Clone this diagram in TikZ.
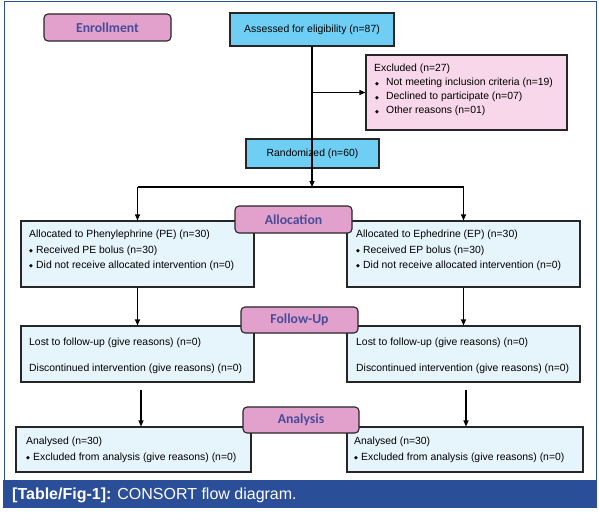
\documentclass[tikz,border=0pt]{standalone}
\usepackage{fontspec}
\setmainfont{Liberation Sans}
\newfontfamily\carlito{Carlito}
\newfontfamily\dejavu{DejaVu Sans}
\usetikzlibrary{arrows.meta,shadows}
\definecolor{pinkL}{RGB}{226,160,204}
\definecolor{labtext}{RGB}{72,76,152}
\definecolor{cyanB}{RGB}{110,206,244}
\definecolor{pinkX}{RGB}{247,215,233}
\definecolor{paleB}{RGB}{230,244,252}
\definecolor{framec}{RGB}{44,80,146}
\definecolor{barc}{RGB}{42,78,152}
\newcommand{\bulx}[1]{\makebox[#1][l]{\dejavu\fontsize{5}{5}\selectfont\raisebox{0.8pt}{◆}}}
\begin{document}
\begin{tikzpicture}[x=1pt,y=-1pt,
  box/.style={draw=black!85, line width=1.1pt, inner sep=0pt,
    drop shadow={shadow xshift=0.8pt, shadow yshift=-0.8pt, fill=black, opacity=0.45}},
  lab/.style={draw=black!85, line width=1.1pt, rounded corners=4pt, fill=pinkL,
    text=labtext, inner sep=0pt, font=\carlito\bfseries\fontsize{13.7}{16}\selectfont},
  txt/.style={anchor=base west, inner sep=0pt, font=\fontsize{10.4}{12}\selectfont},
  arr/.style={-{Triangle[length=6pt,width=5pt]}, line width=1.1pt},
  ln/.style={line width=1.1pt}]
\useasboundingbox (0,0) rectangle (599,513);
\fill[white] (0,0) rectangle (599,513);
% frame and caption bar
\draw[framec, line width=1pt] (4,480) -- (4,2) -- (596,2) -- (596,480);
\fill[barc] (3,480) rectangle (597,508);
\node[anchor=base west, inner sep=0pt, text=white, font=\fontsize{16}{18}\selectfont] (cap) at (12,499.5) {\textbf{[Table/Fig-1]:} CONSORT flow diagram.};

% boxes
\node[box, fill=cyanB, minimum width=164pt, minimum height=33pt, font=\fontsize{10.4}{12}\selectfont] (assess) at (312,29.5) {Assessed for eligibility (n=87)};
\node[box, fill=pinkX, minimum width=201pt, minimum height=75pt] (excl) at (466.5,92.5) {};
\node[box, fill=cyanB, minimum width=133pt, minimum height=29pt, font=\fontsize{10.4}{12}\selectfont] (rand) at (312.5,153.5) {Randomized (n=60)};
\node[box, fill=paleB, minimum width=233pt, minimum height=66pt] (allocL) at (137.5,254) {};
\node[box, fill=paleB, minimum width=233pt, minimum height=66pt] (allocR) at (463.5,254) {};
\node[box, fill=paleB, minimum width=233pt, minimum height=56pt] (followL) at (137.5,354) {};
\node[box, fill=paleB, minimum width=233pt, minimum height=56pt] (followR) at (463.5,354) {};
\node[box, fill=paleB, minimum width=235pt, minimum height=45pt] (anaL) at (133.5,449.5) {};
\node[box, fill=paleB, minimum width=236pt, minimum height=45pt] (anaR) at (465,449.5) {};

% texts
\node[txt] (ex0) at (374,72) {Excluded (n=27)};
\node[txt] (ex1) at (375,86) {\bulx{11pt}Not meeting inclusion criteria (n=19)};
\node[txt] (ex2) at (375,100) {\bulx{11pt}Declined to participate (n=07)};
\node[txt] (ex3) at (375,114) {\bulx{11pt}Other reasons (n=01)};

\node[txt] (al0) at (29,237.5) {Allocated to Phenylephrine (PE) (n=30)};
\node[txt] (al1) at (29,253) {\bulx{7pt}Received PE bolus (n=30)};
\node[txt] (al2) at (29,268.5) {\bulx{7pt}Did not receive allocated intervention (n=0)};
\node[txt] (ar0) at (356,237.5) {Allocated to Ephedrine (EP) (n=30)};
\node[txt] (ar1) at (356,253) {\bulx{7pt}Received EP bolus (n=30)};
\node[txt] (ar2) at (356,268.5) {\bulx{7pt}Did not receive allocated intervention (n=0)};

\node[txt] (fl0) at (29,345) {Lost to follow-up (give reasons) (n=0)};
\node[txt] (fl1) at (29,371.5) {Discontinued intervention (give reasons) (n=0)};
\node[txt] (fr0) at (356,345) {Lost to follow-up (give reasons) (n=0)};
\node[txt] (fr1) at (356,371.5) {Discontinued intervention (give reasons) (n=0)};

\node[txt] (nl0) at (26,444.7) {Analysed (n=30)};
\node[txt] (nl1) at (26,460.7) {\bulx{7pt}Excluded from analysis (give reasons) (n=0)};
\node[txt] (nr0) at (354,444.7) {Analysed (n=30)};
\node[txt] (nr1) at (354,460.7) {\bulx{7pt}Excluded from analysis (give reasons) (n=0)};

% connectors
\coordinate (split) at (312,187);
\draw[arr] (assess.south) -- (split);
\draw[arr] (assess.south |- excl.west) -- (excl.west);
\coordinate (spL) at (allocL.north |- split);
\coordinate (spR) at (allocR.north |- split);
\draw[ln] (spL) -- (spR);
\draw[arr] (spL) -- (allocL.north);
\draw[arr] (spR) -- (allocR.north);
\draw[arr] (allocL.south) -- (followL.north);
\draw[arr] (allocR.south) -- (followR.north);
\coordinate (fLs) at ([xshift=3.5pt,yshift=-7pt]followL.south);
\coordinate (fRs) at ([xshift=2.5pt,yshift=-7pt]followR.south);
\draw[arr] (fLs) -- (fLs |- anaL.north);
\draw[arr] (fRs) -- (fRs |- anaR.north);

% stage labels
\node[lab, minimum width=127pt, minimum height=27pt] (enr) at (107.5,27.5) {Enrollment};
\node[lab, minimum width=117pt, minimum height=27pt] (alloc) at (293.5,219.5) {Allocation};
\node[lab, minimum width=117pt, minimum height=26pt] (foll) at (299.5,320) {Follow-Up};
\node[lab, minimum width=116pt, minimum height=26pt] (anal) at (301,420) {Analysis};
\end{tikzpicture}
\end{document}
